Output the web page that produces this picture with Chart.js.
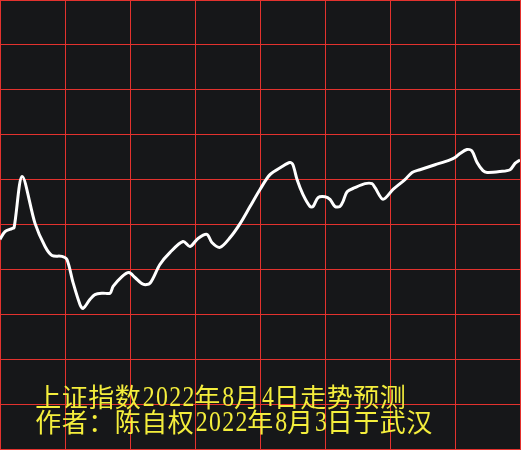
<!DOCTYPE html>
<html>
<head>
<meta charset="utf-8">
<script src="https://cdn.jsdelivr.net/npm/chart.js@4/dist/chart.umd.min.js"></script>
<style>
  html, body { margin: 0; padding: 0; background: #161719; }
  canvas { display: block; }
</style>
</head>
<body>
<canvas id="myChart" width="521" height="450"></canvas>
<script>
// trading minutes since 9:30 (0-240) and index level on an arbitrary 0-100 band
const minutes = [
  0, 2.3, 5.5, 6.5, 10.2, 16.2, 20.8, 24.0, 28.6, 30.9, 33.7, 36.9, 38.3, 41.5,
  43.8, 47.5, 50.8, 52.2, 56.3, 59.5, 62.3, 66.0, 69.2, 73.8, 78.5, 84.5, 87.7,
  91.4, 95.5, 97.8, 101.5, 106.2, 110.8, 115.4, 120, 124.6, 130.2, 133.8, 135.2,
  137.1, 139.8, 143.1, 144.5, 146.8, 150.0, 152.3, 154.6, 156.9, 158.3, 160.2,
  163.8, 168.5, 171.7, 173.1, 176.8, 181.4, 186.9, 190.2, 193.8, 200.8, 207.7,
  210, 212.3, 215.5, 217.8, 220.2, 222.9, 224.8, 230.8, 235.4, 237.7, 240
];
const levels = [
  46.7, 48.4, 49.1, 49.3, 60.7, 50.2, 45.1, 43.1, 42.9, 42.2, 37.1, 32.2, 31.3, 33.3,
  34.4, 34.7, 34.7, 36.2, 38.4, 39.3, 38.2, 36.7, 36.9, 41.1, 43.8, 46.2, 45.1,
  46.9, 47.8, 46.0, 44.9, 47.1, 50.2, 54.0, 57.8, 61.1, 62.9, 63.8, 63.3,
  60.0, 56.7, 54.0, 54.0, 56.0, 56.2, 55.6, 54.0, 54.0, 55.1, 57.3,
  58.2, 59.1, 59.1, 58.2, 55.6, 57.8, 60.0, 61.6, 62.2, 63.3, 64.4,
  64.9, 65.8, 66.7, 66.4, 63.8, 62.0, 61.6, 61.8, 62.2, 63.6, 64.4
];
const captions = [
  "上证指数2022年8月4日走势预测",
  "作者：陈自权2022年8月3日于武汉"
];

const gridRed = "#e3322e";
const textYellow = "#f4ee3c";

const points = minutes.map((m, i) => ({ x: m, y: levels[i] }));

const background = {
  id: "background",
  beforeDraw(chart) {
    const c = chart.ctx;
    c.save();
    c.fillStyle = "#161719";
    c.fillRect(0, 0, chart.width, chart.height);
    c.restore();
  },
};

// fixed-pitch caption: wide chars take a full cell, digits half a cell
const captionPlugin = {
  id: "caption",
  afterDraw(chart) {
    const c = chart.ctx;
    const cell = 26.5;
    c.save();
    c.fillStyle = textYellow;
    c.textBaseline = "alphabetic";
    c.textAlign = "center";
    captions.forEach((line, row) => {
      let x = 36;
      const base = 405 + row * 24.5;
      for (const ch of line) {
        const digit = /[0-9]/.test(ch);
        const w = digit ? cell / 2 : cell;
        if (digit) {
          c.save();
          c.font = '29px "Liberation Serif"';
          c.translate(x + w / 2, base + 1);
          c.scale(0.82, 1);
          c.fillText(ch, 0, 0);
          c.restore();
        } else {
          c.font = '26px "Noto Sans CJK SC"';
          c.fillText(ch, x + w / 2 - 1, base + 2);
        }
        x += w;
      }
    });
    c.restore();
  },
};

new Chart(document.getElementById("myChart"), {
  type: "line",
  data: {
    datasets: [
      {
        data: points,
        borderColor: "#ffffff",
        borderWidth: 3,
        pointRadius: 0,
        tension: 0.3,
        fill: false,
      },
    ],
  },
  options: {
    responsive: false,
    animation: false,
    layout: { padding: { top: 0, left: 0, right: 1, bottom: 1 } },
    plugins: {
      legend: { display: false },
      tooltip: { enabled: false },
    },
    scales: {
      x: {
        type: "linear",
        min: 0,
        max: 240,
        ticks: { display: false, stepSize: 30 },
        grid: { color: gridRed, lineWidth: 1, drawTicks: false },
        border: { color: gridRed },
      },
      y: {
        min: 0,
        max: 100,
        ticks: { display: false, stepSize: 10 },
        grid: { color: gridRed, lineWidth: 1, drawTicks: false },
        border: { color: gridRed },
      },
    },
  },
  plugins: [background, captionPlugin],
});
</script>
</body>
</html>
